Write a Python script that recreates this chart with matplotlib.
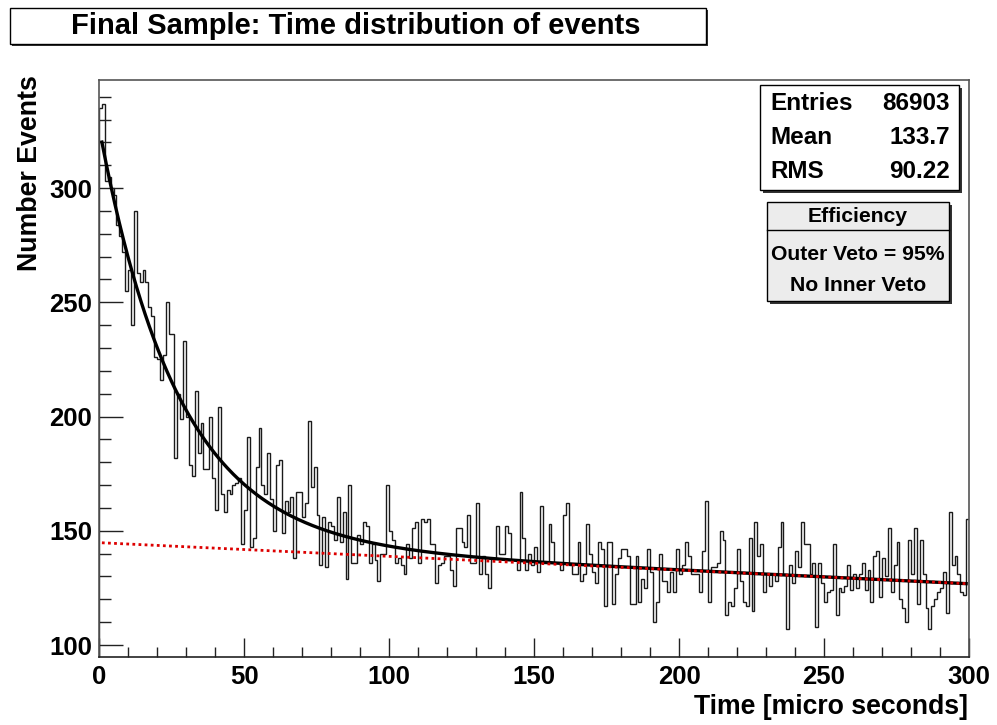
import numpy as np
import matplotlib
matplotlib.use("Agg")
import matplotlib.pyplot as plt
from matplotlib.patches import Rectangle
from matplotlib.ticker import MultipleLocator

# ---------------- data ----------------
bin_lo, bin_hi, n_bins = 0, 300, 300
counts = [
    335, 337, 303, 305, 300, 297, 284, 279, 272, 255, 264, 240, 290, 263, 259, 264, 259,
    248, 244, 226, 225, 216, 227, 250, 236, 236, 182, 210, 199, 233, 200, 179, 174, 211, 184, 197, 177,
    177, 200, 173, 159, 204, 166, 158, 168, 166, 170, 171, 173, 144, 159, 191, 143, 147, 178, 195, 170,
    166, 184, 164, 150, 179, 181, 149, 163, 158, 165, 138, 167, 167, 156, 162, 198,
    169, 178, 157, 135, 156, 134, 154, 152, 146, 165, 145, 158, 129, 170, 136, 136, 148, 144, 154, 152,
    136, 144, 137, 128, 140, 140, 170, 150, 146, 136, 138, 135, 131, 144, 138, 151, 154, 136,
    155, 154, 155, 144, 144, 127, 135, 136, 139, 139, 133, 126, 151, 151, 145, 143, 157, 136, 136, 162,
    131, 139, 131, 125, 138, 138, 152, 140, 140, 152, 149, 137, 137, 133, 167, 147, 133, 140,
    135, 143, 132, 161, 136, 136, 153, 145, 136, 136, 133, 157, 162, 135, 131, 131, 145, 128, 131, 153,
    140, 132, 127, 145, 142, 117, 145, 145, 118, 131, 138, 142, 142, 139, 118, 118, 139, 119,
    129, 125, 142, 132, 110, 119, 140, 128, 128, 123, 132, 123, 142, 131, 135, 145, 139, 131, 131, 131,
    123, 141, 163, 119, 134, 134, 136, 150, 146, 113, 119, 117, 125, 142, 128, 119, 117, 147, 115,
    154, 139, 144, 123, 131, 126, 131, 128, 143, 154, 131, 107, 135, 127, 141, 134, 154, 144, 144, 131,
    136, 108, 136, 127, 119, 123, 124, 144, 113, 125, 123, 126, 135, 124, 131, 125, 131, 136,
    124, 133, 119, 139, 141, 121, 138, 130, 151, 123, 135, 145, 120, 116, 110, 146, 131, 151, 118, 146,
    131, 116, 107, 117, 120, 123, 125, 132, 114, 158, 135, 139, 131, 123, 122, 155,
]

# fit: linear background + exponential
bkg_const = 144.8
bkg_slope = -0.060
exp_amp = 182.0
exp_tau = 27.0
fit_lo, fit_hi = 1.0, 299.0

x_ticks = [0, 50, 100, 150, 200, 250, 300]
y_ticks = [100, 150, 200, 250, 300]

title = "Final Sample: Time distribution of events"
xlabel = "Time [micro seconds]"
ylabel = "Number Events"
stat_names = ["Entries", "Mean", "RMS"]
stat_values = ["86903", "133.7", "90.22"]
eff_lines = ["Efficiency", "Outer Veto = 95%", "No Inner Veto"]

# ---------------- figure ----------------
W, H = 997, 725
FONT = "Liberation Sans"
fig = plt.figure(figsize=(W / 100, H / 100), dpi=100)
fig.patch.set_facecolor("white")

def fx(px):
    return px / W

def fy(py):
    return 1 - py / H

ax_l, ax_r, ax_t, ax_b = 99, 969, 80, 657
ax = fig.add_axes([fx(ax_l), fy(ax_b), (ax_r - ax_l) / W, (ax_b - ax_t) / H])

edges = np.linspace(bin_lo, bin_hi, n_bins + 1)
ax.stairs(counts, edges, color="#1a1a1a", lw=1.0)

xf = np.linspace(fit_lo, fit_hi, 600)
bkg = bkg_const + bkg_slope * xf
total = bkg + exp_amp * np.exp(-xf / exp_tau)
ax.plot(xf, total, color="black", lw=2.4)
ax.plot(xf, bkg, color="#dd0000", lw=2.0, ls=(0, (1, 1.2)))

ax.set_xlim(bin_lo, bin_hi)
ax.set_ylim(94.75, 347.3)
ax.set_xticks(x_ticks)
ax.set_yticks(y_ticks)
ax.xaxis.set_minor_locator(MultipleLocator(10))
ax.yaxis.set_minor_locator(MultipleLocator(10))
ax.tick_params(which="both", direction="in", top=False, right=False, color="#222")
ax.tick_params(axis="y", which="major", length=17, width=1, pad=5)
ax.tick_params(axis="y", which="minor", length=8.5, width=1)
ax.tick_params(axis="x", which="major", length=14, width=1, pad=6)
ax.tick_params(axis="x", which="minor", length=7, width=1)
for lab in ax.get_xticklabels() + ax.get_yticklabels():
    lab.set_fontfamily(FONT)
    lab.set_fontweight("bold")
    lab.set_fontsize(18.5)
for s in ax.spines.values():
    s.set_color("#555555")
    s.set_linewidth(1.2)
ax.spines["bottom"].set_color("#222222")

# axis titles
fig.text(fx(968), fy(707), xlabel, ha="right", va="center", fontfamily=FONT,
         fontweight="bold", fontsize=19.2)
fig.text(fx(30), fy(75), ylabel, ha="center", va="top", rotation=90,
         fontfamily=FONT, fontweight="bold", fontsize=19.3)

def box(x0, y0, x1, y1, fc, shadow=3, lw=1.0):
    fig.patches.append(Rectangle((fx(x0 + shadow), fy(y1 + shadow)), (x1 - x0) / W, (y1 - y0) / H,
                                 transform=fig.transFigure, facecolor="#333333",
                                 edgecolor="none", zorder=5))
    fig.patches.append(Rectangle((fx(x0), fy(y1)), (x1 - x0) / W, (y1 - y0) / H,
                                 transform=fig.transFigure, facecolor=fc,
                                 edgecolor="black", lw=lw, zorder=6))

# title box
box(10, 8, 706, 44, "white", shadow=2)
fig.text(fx(356), fy(26), title, ha="center", va="center", fontfamily=FONT,
         fontweight="bold", fontsize=21, zorder=7)

# stats box
box(760, 85, 959, 190, "white", shadow=3)
rows_y = [103, 138, 172]
for name, val, yy in zip(stat_names, stat_values, rows_y):
    fig.text(fx(770), fy(yy), name, ha="left", va="center", fontfamily=FONT,
             fontweight="bold", fontsize=17.5, zorder=7)
    fig.text(fx(950), fy(yy), val, ha="right", va="center", fontfamily=FONT,
             fontweight="bold", fontsize=17.5, zorder=7)

# efficiency box
box(767, 202, 949, 301, "#ececec", shadow=3)
fig.lines.append(plt.Line2D([fx(767), fx(949)], [fy(230), fy(230)], transform=fig.transFigure,
                            color="black", lw=1.0, zorder=7))
eff_y = [217, 255, 286]
for txt, yy in zip(eff_lines, eff_y):
    fig.text(fx(858), fy(yy), txt, ha="center", va="center", fontfamily=FONT,
             fontweight="bold", fontsize=15.2, zorder=7)

fig.savefig("out.png", dpi=100, facecolor="white")
